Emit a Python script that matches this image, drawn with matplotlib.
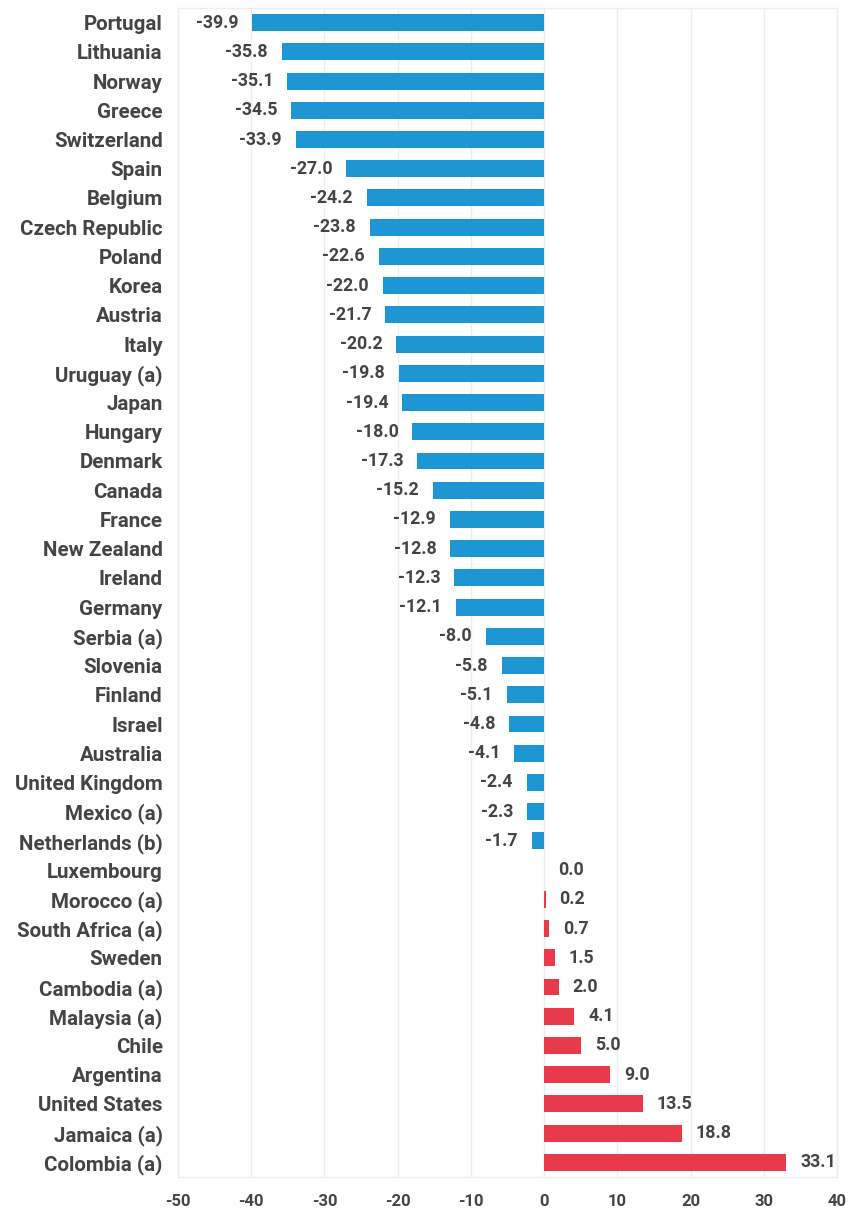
import matplotlib.pyplot as plt

# Data (top to bottom)
countries = ['Portugal', 'Lithuania', 'Norway', 'Greece', 'Switzerland', 'Spain',
             'Belgium', 'Czech Republic', 'Poland', 'Korea', 'Austria', 'Italy',
             'Uruguay (a)', 'Japan', 'Hungary', 'Denmark', 'Canada', 'France',
             'New Zealand', 'Ireland', 'Germany', 'Serbia (a)', 'Slovenia', 'Finland',
             'Israel', 'Australia', 'United Kingdom', 'Mexico (a)', 'Netherlands (b)',
             'Luxembourg', 'Morocco (a)', 'South Africa (a)', 'Sweden', 'Cambodia (a)',
             'Malaysia (a)', 'Chile', 'Argentina', 'United States', 'Jamaica (a)',
             'Colombia (a)']
values = [-39.9, -35.8, -35.1, -34.5, -33.9, -27.0, -24.2, -23.8, -22.6, -22.0,
          -21.7, -20.2, -19.8, -19.4, -18.0, -17.3, -15.2, -12.9, -12.8, -12.3,
          -12.1, -8.0, -5.8, -5.1, -4.8, -4.1, -2.4, -2.3, -1.7, 0.0, 0.2, 0.7,
          1.5, 2.0, 4.1, 5.0, 9.0, 13.5, 18.8, 33.1]
xticks = [-50, -40, -30, -20, -10, 0, 10, 20, 30, 40]

blue = '#1E96D4'
red = '#E83A4A'
text_col = '#444444'
plt.rcParams['font.family'] = ['Roboto', 'DejaVu Sans']

fig = plt.figure(figsize=(8.5, 12.14), dpi=100)
ax = fig.add_axes([0.2094, 0.0305, 0.7753, 0.9629])

pos = list(range(len(countries)))
colors = [blue if v < 0 else red for v in values]
ax.barh(pos, values, height=0.58, color=colors, zorder=2)

# value labels just outside the end of each bar
for y, v in zip(pos, values):
    if v < 0:
        ax.text(v - 1.9, y, f'{v:.1f}', ha='right', va='center', fontsize=12.8,
                fontweight='bold', color=text_col)
    else:
        ax.text(v + 1.9, y, f'{v:.1f}', ha='left', va='center', fontsize=12.8,
                fontweight='bold', color=text_col)

ax.set_xlim(-50, 40)
ax.set_ylim(len(countries) - 0.5, -0.5)
ax.set_xticks(xticks)
ax.set_xticklabels([str(t) for t in xticks])
ax.set_yticks(pos)
ax.set_yticklabels(countries)
ax.tick_params(axis='both', length=0, labelcolor=text_col)
ax.tick_params(axis='x', pad=12, labelsize=12)
ax.tick_params(axis='y', pad=11, labelsize=14.8)
for lbl in ax.get_xticklabels() + ax.get_yticklabels():
    lbl.set_fontweight('bold')

ax.grid(axis='x', color='#eeeeee', linewidth=1, zorder=0)
for s in ax.spines.values():
    s.set_color('#eeeeee')
    s.set_linewidth(1)

fig.savefig('out.png', dpi=100)
